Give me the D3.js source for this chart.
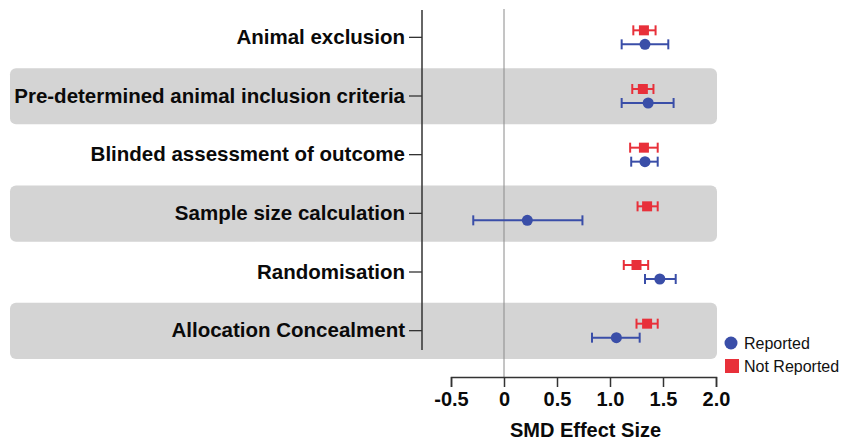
<!DOCTYPE html>
<html>
<head>
<meta charset="utf-8">
<script src="https://cdn.jsdelivr.net/npm/d3@7"></script>
<style>
  body { margin: 0; background: #fff; }
  svg { font-family: "Liberation Sans", Arial, sans-serif; }
</style>
</head>
<body>
<div id="chart"></div>
<script>
var svgWidth = 841;
var svgHeight = 443;

// data
var categories = [
  "Animal exclusion",
  "Pre-determined animal inclusion criteria",
  "Blinded assessment of outcome",
  "Sample size calculation",
  "Randomisation",
  "Allocation Concealment"
];
var reportedMean = [1.33, 1.36, 1.33, 0.22, 1.47, 1.06];
var reportedLow  = [1.11, 1.11, 1.20, -0.29, 1.33, 0.83];
var reportedHigh = [1.55, 1.60, 1.45, 0.74, 1.62, 1.28];
var notReportedMean = [1.32, 1.31, 1.32, 1.35, 1.25, 1.35];
var notReportedLow  = [1.22, 1.21, 1.19, 1.26, 1.13, 1.25];
var notReportedHigh = [1.43, 1.41, 1.45, 1.45, 1.36, 1.45];
var xTicks = [-0.5, 0, 0.5, 1.0, 1.5, 2.0];
var xTickLabels = ["-0.5", "0", "0.5", "1.0", "1.5", "2.0"];

var blue = "#3a4ea8";
var red = "#e8303a";

var svg = d3.select("#chart")
  .append("svg")
  .attr("width", svgWidth)
  .attr("height", svgHeight);

var x = d3.scaleLinear().domain([-0.5, 2.0]).range([451, 716]);
var y = d3.scaleBand().domain(categories).range([8, 360]);

var rows = categories.map(function(c, i) {
  return {
    cat: c,
    rep: [reportedLow[i], reportedMean[i], reportedHigh[i]],
    nrep: [notReportedLow[i], notReportedMean[i], notReportedHigh[i]]
  };
});

// alternating grey bands
svg.append("g").selectAll("rect")
  .data(categories.filter(function(d, i) { return i % 2 === 1; }))
  .enter()
  .append("rect")
  .attr("x", 10)
  .attr("y", d => y(d) + 1.5)
  .attr("width", 707)
  .attr("height", y.bandwidth() - 2.5)
  .attr("rx", 6)
  .attr("fill", "#d4d4d4");

// zero line
svg.append("line")
  .attr("x1", x(0)).attr("x2", x(0))
  .attr("y1", 9).attr("y2", 377)
  .attr("stroke", "#8a8a8a")
  .attr("stroke-width", 1);

// left category axis
var yAxis = svg.append("g")
  .attr("transform", "translate(422,0)")
  .call(d3.axisLeft(y).tickSize(13).tickPadding(4));
yAxis.select(".domain").remove();
yAxis.append("line")
  .attr("x1", 0).attr("x2", 0)
  .attr("y1", 10).attr("y2", 350)
  .attr("stroke", "#333")
  .attr("stroke-width", 1.5);
yAxis.selectAll(".tick line").attr("stroke", "#333").attr("stroke-width", 1.3);
yAxis.selectAll(".tick text")
  .attr("fill", "#0a0a0a")
  .style("font-size", "20.5px")
  .style("font-weight", "bold");

// bottom axis
var xAxis = svg.append("g")
  .attr("transform", "translate(0,377)")
  .call(d3.axisBottom(x)
    .tickValues(xTicks)
    .tickFormat(function(d, i) { return xTickLabels[i]; })
    .tickSizeOuter(0)
    .tickSize(10)
    .tickPadding(5));
xAxis.select(".domain").attr("stroke", "#333").attr("stroke-width", 1.5);
xAxis.selectAll(".tick line").attr("stroke", "#333").attr("stroke-width", 1.5);
xAxis.selectAll(".tick text")
  .attr("fill", "#0a0a0a")
  .style("font-size", "20px")
  .style("font-weight", "bold");

svg.append("text")
  .attr("x", (x(-0.5) + x(2.0)) / 2 + 2)
  .attr("y", 437)
  .attr("text-anchor", "middle")
  .attr("fill", "#0a0a0a")
  .style("font-size", "20px")
  .style("font-weight", "bold")
  .text("SMD Effect Size");

// error bars
function drawSeries(key, color, offset) {
  var g = svg.append("g").attr("stroke", color).attr("stroke-width", 2);
  var rowsG = g.selectAll("g").data(rows).enter().append("g")
    .attr("transform", d => `translate(0, ${y(d.cat) + y.bandwidth() / 2 + offset})`);
  rowsG.append("line")
    .attr("x1", d => x(d[key][0]))
    .attr("x2", d => x(d[key][2]))
    .attr("y1", 0).attr("y2", 0);
  rowsG.append("line")
    .attr("x1", d => x(d[key][0])).attr("x2", d => x(d[key][0]))
    .attr("y1", -5).attr("y2", 5);
  rowsG.append("line")
    .attr("x1", d => x(d[key][2])).attr("x2", d => x(d[key][2]))
    .attr("y1", -5).attr("y2", 5);
  return rowsG;
}

var nrepG = drawSeries("nrep", red, -7);
nrepG.append("rect")
  .attr("x", d => x(d.nrep[1]) - 5)
  .attr("y", -5)
  .attr("width", 10)
  .attr("height", 10)
  .attr("fill", red)
  .attr("stroke", "none");

var repG = drawSeries("rep", blue, 7);
repG.append("circle")
  .attr("cx", d => x(d.rep[1]))
  .attr("cy", 0)
  .attr("r", 5.5)
  .attr("fill", blue)
  .attr("stroke", "none");

// legend
var legend = svg.append("g");
legend.append("circle")
  .attr("cx", 731).attr("cy", 343).attr("r", 6.5)
  .attr("fill", blue);
legend.append("rect")
  .attr("x", 725).attr("y", 359).attr("width", 14).attr("height", 14)
  .attr("fill", red);
legend.append("text")
  .attr("x", 744).attr("y", 349)
  .attr("fill", "#111")
  .style("font-size", "16px")
  .text("Reported");
legend.append("text")
  .attr("x", 744).attr("y", 372)
  .attr("fill", "#111")
  .style("font-size", "16px")
  .text("Not Reported");
</script>
</body>
</html>
